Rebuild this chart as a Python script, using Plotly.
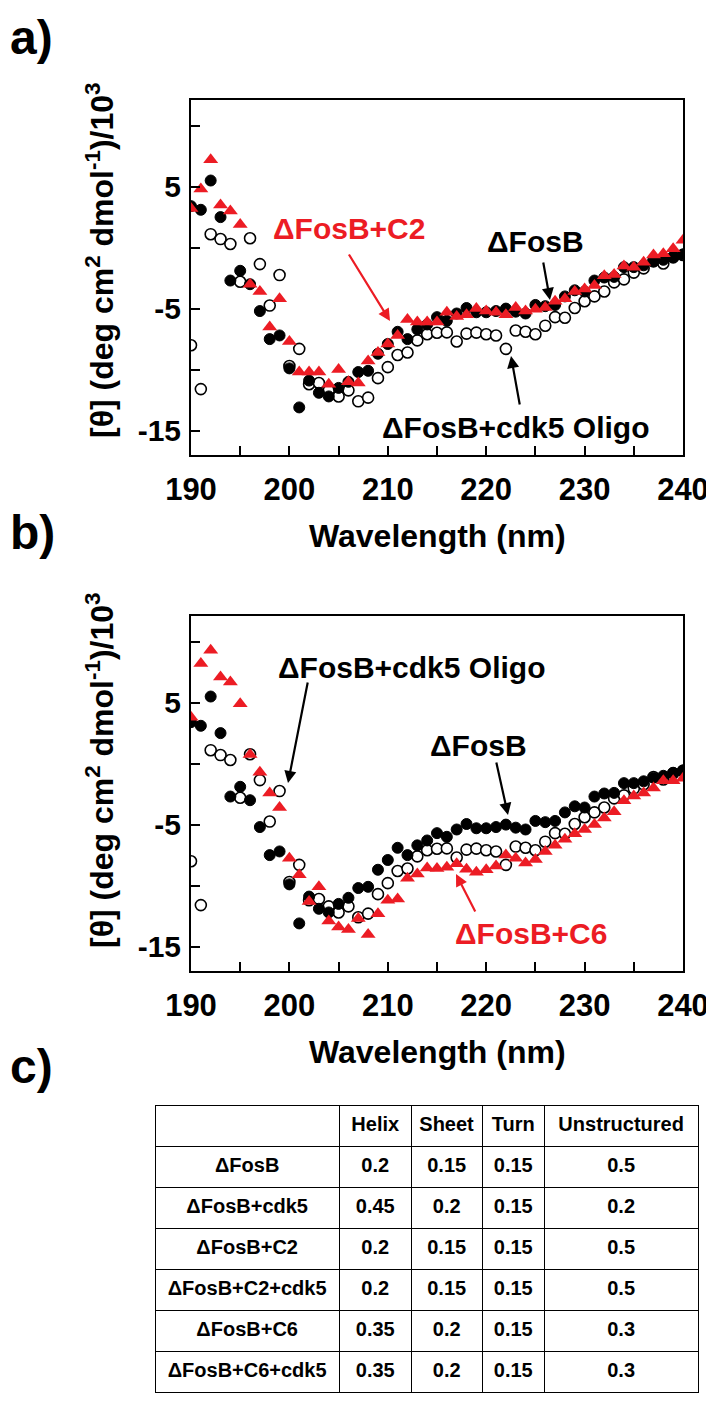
import plotly.graph_objects as go

W, H = 714, 1401

wavelength = list(range(190, 241))

fosb = [3.4, 3.1, 5.5, 2.5, -2.7, -1.9, -3.0, -5.2, -7.5, -7.2,
        -9.9, -13.1, -10.9, -11.9, -12.2, -11.5, -11.0, -10.2, -10.1, -8.7,
        -7.9, -6.9, -7.5, -6.7, -6.3, -5.7, -6.0, -5.4, -4.95, -5.3,
        -5.3, -5.2, -5.0, -5.25, -5.4, -4.7, -4.8, -4.7, -4.0, -3.5,
        -3.6, -2.7, -2.45, -2.4, -1.6, -1.6, -1.45, -1.15, -1.0, -0.75,
        -0.55]

fosb_cdk5 = [-8.0, -11.6, 1.1, 0.7, 0.3, -2.8, 0.77, -1.35, -4.75, -2.25,
             -9.7, -8.3, -11.2, -11.1, -11.7, -12.2, -11.7, -12.6, -12.3, -10.7,
             -9.8, -8.8, -8.6, -7.6, -7.1, -6.98, -6.95, -7.7, -7.05, -6.97,
             -7.1, -7.2, -8.3, -6.8, -6.9, -7.1, -6.4, -5.7, -5.75, -4.95,
             -4.4, -4.0, -3.6, -2.85, -2.6, -2.05, -1.7, -1.1, -1.3, -0.8,
             -0.6]

fosb_c2 = [3.2, 4.8, 7.2, 3.5, 3.0, 1.9, -3.0, -3.6, -6.5, -4.2,
           -7.7, -10.2, -10.2, -10.2, -11.2, -10.0, -11.0, -11.1, -9.3, -8.6,
           -7.9, -7.2, -5.9, -6.1, -6.1, -6.1, -5.3, -5.65, -5.5, -5.0,
           -5.2, -5.3, -5.5, -4.9, -5.2, -5.05, -4.9, -4.4, -4.2, -3.6,
           -3.4, -3.1, -2.3, -2.2, -1.5, -1.6, -1.2, -0.6, -0.5, -0.1,
           0.6]

fosb_c6 = [3.8, 8.2, 9.3, 7.1, 6.7, 4.9, 0.75, -0.7, -2.4, -3.6,
           -7.75, -9.1, -11.3, -10.1, -12.9, -13.4, -13.6, -12.7, -14.0, -12.3,
           -11.2, -11.1, -9.4, -9.05, -8.55, -8.6, -8.5, -8.2, -8.65, -8.9,
           -8.7, -8.4, -7.5, -7.75, -8.15, -7.85, -7.2, -6.7, -6.2, -5.75,
           -5.4, -5.0, -4.45, -3.95, -3.05, -2.65, -2.4, -2.0, -1.4, -1.4,
           -1.2]

table_header = ["", "Helix", "Sheet", "Turn", "Unstructured"]
table_rows = ["ΔFosB", "ΔFosB+cdk5", "ΔFosB+C2", "ΔFosB+C2+cdk5", "ΔFosB+C6", "ΔFosB+C6+cdk5"]
helix = ["0.2", "0.45", "0.2", "0.2", "0.35", "0.35"]
sheet = ["0.15", "0.2", "0.15", "0.15", "0.2", "0.2"]
turn = ["0.15", "0.15", "0.15", "0.15", "0.15", "0.15"]
unstructured = ["0.5", "0.2", "0.5", "0.5", "0.3", "0.3"]

RED = "#ec1c24"
FONT = "Liberation Sans, Arial, sans-serif"


def px(x):
    return x / W


def py(y):
    return 1 - y / H


fig = go.Figure()

panels = [("x", "y", fosb_c2), ("x2", "y2", fosb_c6)]
for xa, ya, red in panels:
    fig.add_trace(go.Scatter(x=wavelength, y=fosb_cdk5, mode="markers", xaxis=xa, yaxis=ya,
                             marker=dict(symbol="circle", size=11, color="white",
                                         line=dict(color="black", width=1.6)),
                             showlegend=False))
    fig.add_trace(go.Scatter(x=wavelength, y=fosb, mode="markers", xaxis=xa, yaxis=ya,
                             marker=dict(symbol="circle", size=11, color="black",
                                         line=dict(color="black", width=1)),
                             showlegend=False))
    fig.add_trace(go.Scatter(x=wavelength, y=red, mode="markers", xaxis=xa, yaxis=ya,
                             marker=dict(symbol="triangle-up", size=13, color=RED,
                                         line=dict(width=0)),
                             showlegend=False))

fig.add_trace(go.Table(
    domain=dict(x=[px(147), px(690)], y=[0.0, py(1097)]),
    columnwidth=[187, 73, 72, 63, 156],
    header=dict(values=["<b>%s</b>" % h for h in table_header],
                height=41, align="center",
                fill_color="white", line=dict(color="black", width=1),
                font=dict(family=FONT, size=20, color="black")),
    cells=dict(values=[["<b>%s</b>" % v for v in col] for col in
                       [table_rows, helix, sheet, turn, unstructured]],
               height=41, align="center",
               fill_color="white", line=dict(color="black", width=1),
               font=dict(family=FONT, size=20, color="black")),
))

xdom = [px(183), px(675)]
axis_common = dict(showline=True, mirror=True, linecolor="black", linewidth=2,
                   ticks="inside", ticklen=9, tickwidth=2, tickcolor="black",
                   showgrid=False, zeroline=False, automargin=False,
                   tickfont=dict(family=FONT, size=31, color="black", weight="bold"))

xa = dict(axis_common, range=[190, 240], dtick=10, tick0=190,
          minor=dict(dtick=5, tick0=190, ticks="inside", ticklen=9, tickwidth=2, tickcolor="black"),
          ticklabelstandoff=6)
ya = dict(axis_common, range=[-17, 12.1], tickmode="array",
          tickvals=[-15, -5, 5], ticktext=["-15", "-5", "5"],
          minor=dict(tickvals=[-10, 0, 10], ticks="inside", ticklen=9, tickwidth=2, tickcolor="black"),
          tickfont=dict(family=FONT, size=30, color="black", weight="bold"),
          ticklabelstandoff=2)

fig.update_layout(
    template="none",
    width=W, height=H, margin=dict(l=0, r=0, t=0, b=0, pad=0, autoexpand=False),
    paper_bgcolor="white", plot_bgcolor="white",
    font=dict(family=FONT, color="black"),
    xaxis=dict(xa, domain=xdom, anchor="y"),
    yaxis=dict(ya, domain=[py(447), py(92)], anchor="x"),
    xaxis2=dict(xa, domain=xdom, anchor="y2"),
    yaxis2=dict(ya, domain=[py(963), py(608)], anchor="x2"),
)

ann = []


def text(x, y, s, size, color="black", angle=0):
    ann.append(dict(x=px(x), y=py(y), xref="paper", yref="paper", text=s,
                    showarrow=False, xanchor="center", yanchor="middle", textangle=angle,
                    font=dict(family=FONT, size=size, color=color, weight="bold")))


def arrow(x0, y0, x1, y1, color="black"):
    ann.append(dict(x=px(x1), y=py(y1), xref="paper", yref="paper", text="",
                    showarrow=True, ax=x0 - x1, ay=y0 - y1, arrowhead=2, arrowsize=1.1,
                    arrowwidth=2.2, arrowcolor=color))


# panel letters
for ytop, letter in [(1, "a)"), (496, "b)"), (1030, "c)")]:
    ann.append(dict(x=px(0), y=py(ytop), xref="paper", yref="paper", text="<b>%s</b>" % letter,
                    showarrow=False, xanchor="left", yanchor="top",
                    font=dict(family=FONT, size=48, color="black")))

ytitle = "[θ] (deg cm<sup>2</sup> dmol<sup>-1</sup>)/10<sup>3</sup>"
text(92, 252, ytitle, 32, angle=-90)
text(92, 762, ytitle, 32, angle=-90)
text(429, 528, "Wavelength (nm)", 32)
text(429, 1044, "Wavelength (nm)", 32)

# panel a labels
text(341, 221, "ΔFosB+C2", 30, RED)
arrow(340, 245, 382, 313, RED)
text(527, 233, "ΔFosB", 30)
arrow(535, 253, 542, 292)
text(507, 419, "ΔFosB+cdk5 Oligo", 30)
arrow(512, 398, 503, 348)

# panel b labels
text(403, 659, "ΔFosB+cdk5 Oligo", 30)
arrow(300, 673, 280, 775)
text(470, 737, "ΔFosB", 30)
arrow(488, 753, 500, 807)
text(523, 925, "ΔFosB+C6", 30, RED)
arrow(468, 905, 448, 866, RED)

fig.update_layout(annotations=ann)

fig.write_html("out.html")
